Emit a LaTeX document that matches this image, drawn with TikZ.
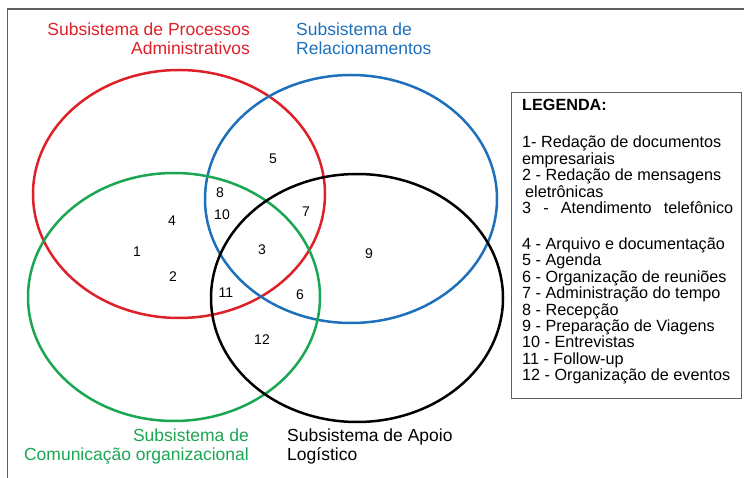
\documentclass[tikz,border=0pt]{standalone}
\usepackage{fontspec}
\setmainfont{Liberation Sans}
\usepackage{tikz}
\usetikzlibrary{positioning, shapes.geometric}
\definecolor{vermelho}{RGB}{222, 32, 40}
\definecolor{azul}{RGB}{30, 112, 188}
\definecolor{verde}{RGB}{26, 166, 82}
\definecolor{cinza}{RGB}{95, 95, 95}
\tikzset{
    conj/.style={draw, ellipse, line width=2.5pt, minimum width=292pt, minimum height=248pt, inner sep=0pt},
    num/.style={font=\fontsize{14}{16}\selectfont, inner sep=0pt},
    tit/.style={font=\fontsize{17.5}{19}\selectfont, inner sep=0pt},
    leg/.style={font=\fontsize{16.2}{16.4}\selectfont, align=left, inner sep=0pt},
}

\begin{document}
\begin{tikzpicture}[x=1pt, y=-1pt]
        \useasboundingbox (0,0) rectangle (744,478);
        \draw[cinza, line width=1.3pt] (7.5,478) |- (744,9);

        \node [conj, draw=vermelho] (adm) at (179,194) {};
        \node [conj, draw=azul] (rel) at (351,199) {};
        \node [conj, draw=verde] (com) at (174,297) {};
        \node [conj, draw=black] (apo) at (357,298) {};

        \node [tit, vermelho, align=right, anchor=east] (tadm) at (250,38.5) {Subsistema de Processos\\Administrativos};
        \node [tit, azul, align=left, anchor=west] (trel) at (296,38.5) {Subsistema de\\Relacionamentos};
        \node [tit, verde, align=right, anchor=east] (tcom) at (249,446.5) {Subsistema de\\Comunicação organizacional};
        \node [tit, align=left, anchor=west] (tapo) at (287,446.5) {Subsistema de Apoio\\Logístico};

        \node [num] (n1) at (137,252) {1};
        \node [num] (n2) at (173,277) {2};
        \node [num] (n3) at (262,250) {3};
        \node [num] (n4) at (172,221) {4};
        \node [num] (n5) at (273,159) {5};
        \node [num] (n6) at (300,295) {6};
        \node [num] (n7) at (306,212) {7};
        \node [num] (n8) at (220,193) {8};
        \node [num] (n9) at (369,254) {9};
        \node [num] (n10) at (222,215) {10};
        \node [num] (n11) at (226,293) {11};
        \node [num] (n12) at (262,340) {12};

        \node [draw=cinza, line width=0.9pt, minimum width=230pt, minimum height=306pt, inner sep=0pt, anchor=north west] (legbox) at (511,92) {};
        \node [leg, anchor=north west] (legtxt) at ([xshift=11pt, yshift=-7.3pt]legbox.north west) {%
            \textbf{LEGENDA:}\\[20.6pt]
            1- Redação de documentos\\
            empresariais\\
            2 - Redação de mensagens\\
            \hspace{3pt}eletrônicas\\
            \makebox[211pt][s]{3 - Atendimento telefônico}\\[19.6pt]
            4 - Arquivo e documentação\\
            5 - Agenda\\
            6 - Organização de reuniões\\
            7 - Administração do tempo\\
            8 - Recepção\\
            9 - Preparação de Viagens\\
            10 - Entrevistas\\
            11 - Follow-up\\
            12 - Organização de eventos};
\end{tikzpicture}
\end{document}
